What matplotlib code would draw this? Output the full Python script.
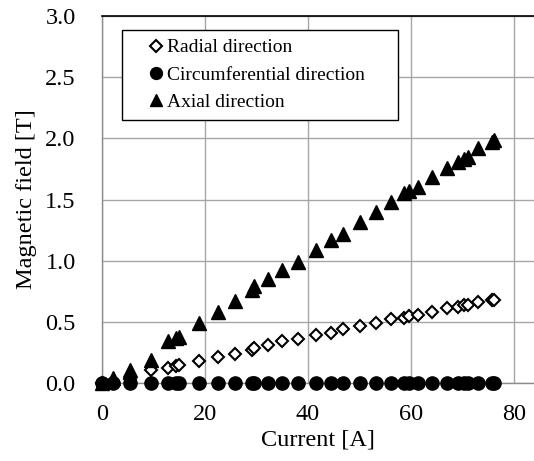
import matplotlib
matplotlib.use("Agg")
import matplotlib.pyplot as plt
import numpy as np

plt.rcParams['font.family'] = ['Liberation Serif', 'DejaVu Serif']

# current [A]
current = [0, 2.2, 5.4, 9.5, 12.9, 14.4, 15.0, 18.9, 22.5, 25.8, 29.1, 29.6,
           32.3, 34.9, 38.0, 41.6, 44.4, 46.7, 50.1, 53.2, 56.1, 58.7, 59.6,
           61.4, 64.0, 66.9, 69.2, 70.2, 71.0, 73.1, 75.7, 76.2]

# magnetic field [T]
radial = [0.0, 0.01, 0.03, 0.106, 0.125, 0.14, 0.15, 0.18, 0.215, 0.24, 0.27, 0.29,
          0.31, 0.34, 0.36, 0.39, 0.41, 0.44, 0.47, 0.49, 0.52, 0.53, 0.55,
          0.556, 0.58, 0.61, 0.625, 0.64, 0.64, 0.66, 0.68, 0.68]
circumferential = [0.0] * len(current)
axial = [0.0, 0.04, 0.106, 0.188, 0.34, 0.37, 0.38, 0.49, 0.58, 0.67, 0.76, 0.79,
         0.85, 0.92, 0.99, 1.09, 1.17, 1.22, 1.32, 1.40, 1.48, 1.55, 1.57,
         1.60, 1.68, 1.76, 1.81, 1.83, 1.85, 1.92, 1.97, 1.99]

labels = ['Radial direction', 'Circumferential direction', 'Axial direction']

fig = plt.figure(figsize=(5.34, 4.61), dpi=100)
ax = fig.add_axes([102/534, 1 - 383/461, 432/534, 367/461])

ax.plot(current, radial, 'D', ms=6.4, mfc='white', mec='black', mew=1.5,
        ls='none', label=labels[0], clip_on=False, zorder=3)
ax.plot(current, circumferential, 'o', ms=9.5, color='black',
        ls='none', label=labels[1], clip_on=False, zorder=4)
ax.plot(current, axial, '^', ms=9.8, color='black',
        ls='none', label=labels[2], clip_on=False, zorder=5)

ax.set_xlim(0, 432/5.15)
ax.set_ylim(0, 3.0)
ax.set_xticks([0, 20, 40, 60, 80])
ax.set_yticks(np.arange(0, 3.01, 0.5))
ax.set_yticklabels(['%.1f' % v for v in np.arange(0, 3.01, 0.5)])

ax.grid(True, color='#a6a6a6', lw=1.0)
ax.set_axisbelow(True)
ax.tick_params(length=0, labelsize=17.5)
ax.tick_params(axis='y', pad=19)
ax.tick_params(axis='x', pad=15)

for s in ['left', 'bottom']:
    ax.spines[s].set_color('#8c8c8c')
    ax.spines[s].set_linewidth(1.0)
ax.spines['right'].set_visible(False)
ax.spines['top'].set_color('black')
ax.spines['top'].set_linewidth(1.2)

ax.set_xlabel('Current [A]', fontsize=17.5, labelpad=3)
ax.set_ylabel('Magnetic field [T]', fontsize=17.5, labelpad=6)

leg = ax.legend(loc='upper left', bbox_to_anchor=(20/432, 0, 276/432, 353/367),
                mode='expand', fontsize=14, frameon=True, fancybox=False,
                edgecolor='black', framealpha=1, handlelength=2.6,
                handletextpad=-0.72, labelspacing=0.5, borderpad=0.45,
                markerscale=0.9, borderaxespad=0)
leg.get_frame().set_linewidth(1.0)
leg.set_zorder(10)

fig.savefig('out.png', dpi=100)
